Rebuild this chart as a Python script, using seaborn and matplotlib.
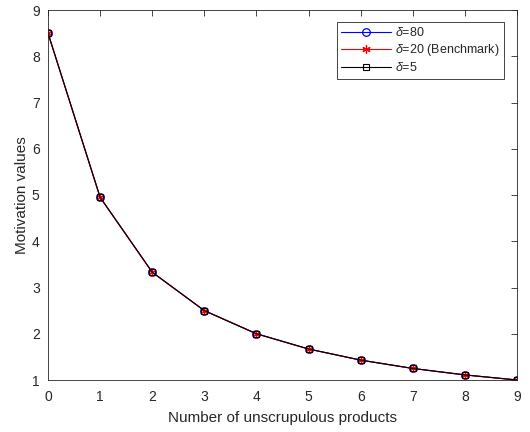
import matplotlib
matplotlib.use("Agg")
import matplotlib.pyplot as plt
import seaborn as sns
import pandas as pd

products = [0, 1, 2, 3, 4, 5, 6, 7, 8, 9]
delta80 = [8.5, 4.95, 3.33, 2.5, 2.0, 1.67, 1.43, 1.25, 1.11, 1.0]
delta20 = [8.5, 4.95, 3.33, 2.5, 2.0, 1.67, 1.43, 1.25, 1.11, 1.0]
delta5 = [8.5, 4.95, 3.33, 2.5, 2.0, 1.67, 1.43, 1.25, 1.11, 1.0]
labels = [r"$\delta$=80", r"$\delta$=20 (Benchmark)", r"$\delta$=5"]

sns.set_style("white")
plt.rcParams['font.family'] = ['Liberation Sans', 'DejaVu Sans']
plt.rcParams['mathtext.fontset'] = 'custom'
plt.rcParams['mathtext.it'] = 'Liberation Sans:italic'

fig = plt.figure(figsize=(5.3, 4.32), dpi=100)
ax = fig.add_axes([48/530, 1-380/432, (517-48)/530, (380-10)/432])

df1 = pd.DataFrame({"x": products, "y": delta80})
df2 = pd.DataFrame({"x": products, "y": delta20})
df3 = pd.DataFrame({"x": products, "y": delta5})

sns.lineplot(data=df1, x="x", y="y", ax=ax, color="blue", marker="o", markersize=5.5,
             markerfacecolor="none", markeredgecolor="blue", markeredgewidth=0.9,
             linewidth=0.8, label=labels[0])
sns.lineplot(data=df2, x="x", y="y", ax=ax, color="red", marker=(6, 2, 0), markersize=6,
             markerfacecolor="red", markeredgecolor="red", markeredgewidth=0.9,
             linewidth=0.8, label=labels[1])
sns.lineplot(data=df3, x="x", y="y", ax=ax, color="black", marker="s", markersize=4.5,
             markerfacecolor="none", markeredgecolor="black", markeredgewidth=0.8,
             linewidth=0.8, label=labels[2])

ax.set_xlim(0, 9)
ax.set_ylim(1, 9)
ax.set_xticks(range(0, 10))
ax.set_yticks(range(1, 10))
ax.set_xlabel("Number of unscrupulous products", fontsize=11, color="#262626", labelpad=5)
ax.set_ylabel("Motivation values", fontsize=11, color="#262626", labelpad=2)
ax.tick_params(direction="in", top=True, right=True, length=4, width=0.6,
               labelsize=10, labelcolor="#262626", color="#262626")
ax.tick_params(axis="x", pad=7)
ax.tick_params(axis="y", pad=6)
for s in ax.spines.values():
    s.set_visible(True)
    s.set_color("#262626")
    s.set_linewidth(0.6)

leg = ax.legend(loc="upper right", fontsize=9, frameon=True, fancybox=False,
                edgecolor="#262626", framealpha=1, borderpad=0.35,
                handlelength=4.0, handletextpad=0.3, labelspacing=0.25,
                bbox_to_anchor=(0.985, 0.985))
leg.get_frame().set_linewidth(0.6)

fig.savefig("out.png", dpi=100)
